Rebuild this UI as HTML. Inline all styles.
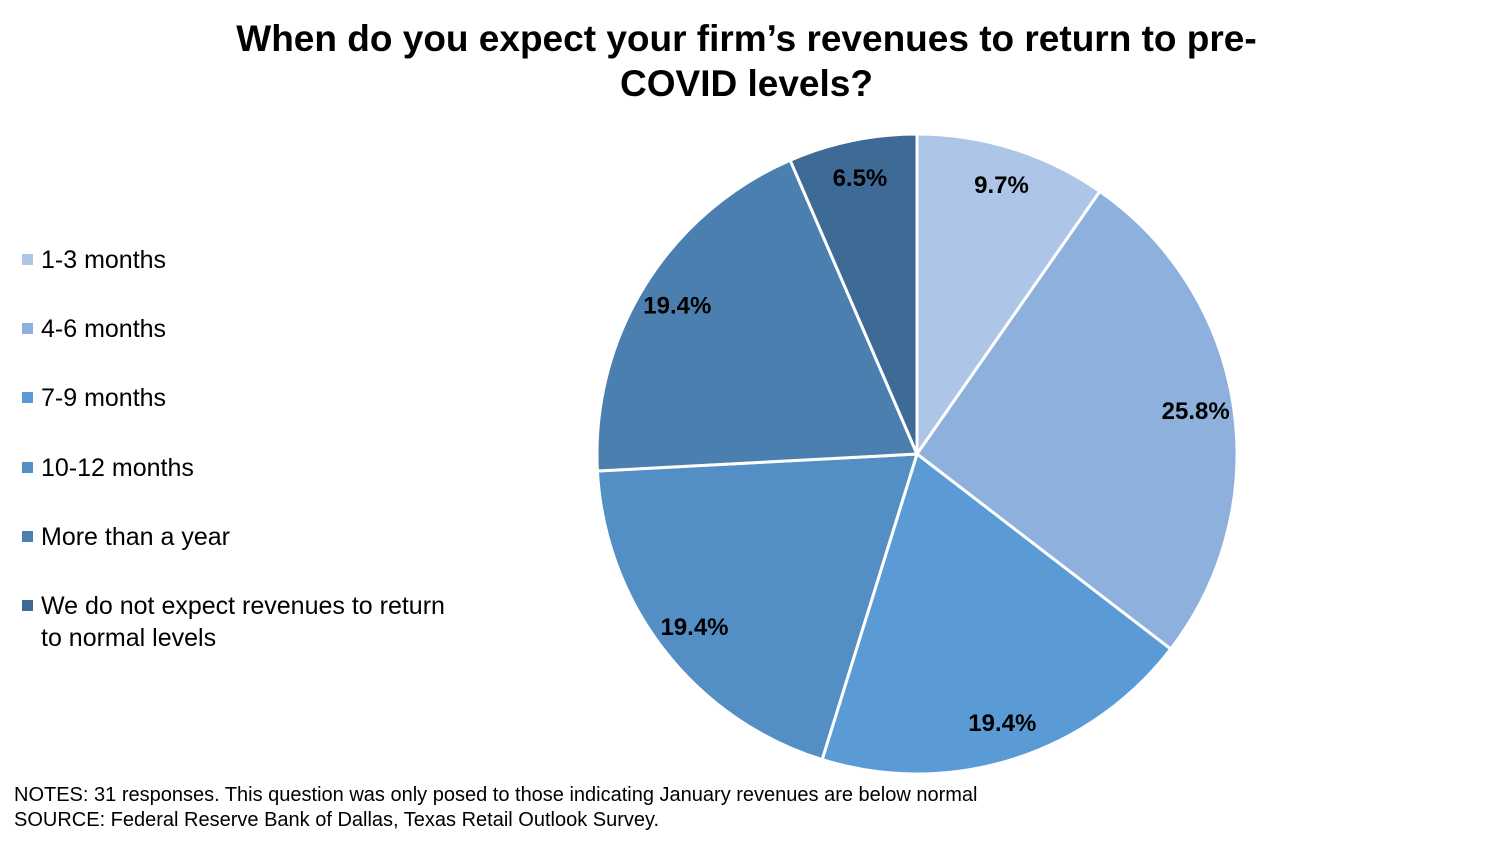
<!DOCTYPE html>
<html><head><meta charset="utf-8"><style>
body{margin:0;width:1493px;height:845px;background:#fff;font-family:"Liberation Sans",Arial,sans-serif;overflow:hidden;position:relative}
.title{position:absolute;left:0;width:1493px;top:16px;text-align:center;font-weight:bold;font-size:37px;line-height:45px;color:#000}
.leg{position:absolute;left:22px;font-size:25px;line-height:32px;color:#000}
.leg i{position:absolute;left:0;top:10px;width:11px;height:11px}
.leg span{display:block;margin-left:19px}
.notes{position:absolute;left:14px;top:783px;font-size:20px;line-height:25px;color:#000}
</style></head><body>
<div class="title">When do you expect your firm’s revenues to return to pre-<br>COVID levels?</div>
<div id="legend"></div>
<svg id="pie" width="1493" height="845" style="position:absolute;left:0;top:0"></svg>
<div class="notes">NOTES: 31 responses. This question was only posed to those indicating January revenues are below normal<br>SOURCE: Federal Reserve Bank of Dallas, Texas Retail Outlook Survey.</div>
<script>
const categories=["1-3 months","4-6 months","7-9 months","10-12 months","More than a year","We do not expect revenues to return to normal levels"];
const values=[9.7,25.8,19.4,19.4,19.4,6.5];
const colors=["#adc5e6","#8db0dc","#5b9bd5","#538ec4","#4a7fb0","#3e6a96"];
const legendTops=[244,313,382,452,521,590];
const cx=917,cy=454,R=320,LR=282;
const svg=document.getElementById('pie');
const NS="http://www.w3.org/2000/svg";
const total=values.reduce((a,b)=>a+b,0);
function pt(a,r){return [cx+r*Math.sin(a),cy-r*Math.cos(a)];}
let acc=0;
values.forEach((v,i)=>{
  const a0=acc/total*2*Math.PI;acc+=v;const a1=acc/total*2*Math.PI;
  const p0=pt(a0,R),p1=pt(a1,R);
  const path=document.createElementNS(NS,'path');
  path.setAttribute('d',`M${cx},${cy} L${p0[0]},${p0[1]} A${R},${R} 0 ${a1-a0>Math.PI?1:0} 1 ${p1[0]},${p1[1]} Z`);
  path.setAttribute('fill',colors[i]);path.setAttribute('stroke','#fff');path.setAttribute('stroke-width','3');
  
  
  svg.appendChild(path);
});
acc=0;
values.forEach((v,i)=>{
  const am=(acc+v/2)/total*2*Math.PI;acc+=v;
  const p=pt(am,LR);
  const t=document.createElementNS(NS,'text');
  t.setAttribute('x',p[0]);t.setAttribute('y',p[1]+8);t.setAttribute('text-anchor','middle');
  t.setAttribute('font-size','24');t.setAttribute('font-weight','bold');t.setAttribute('font-family','Liberation Sans, Arial, sans-serif');
  t.textContent=v.toFixed(1)+'%';
  
  
  svg.appendChild(t);
});
const leg=document.getElementById('legend');
categories.forEach((c,i)=>{
  const d=document.createElement('div');d.className='leg';d.style.top=legendTops[i]+'px';
  if(i===5){d.style.width='480px';}
  d.innerHTML=`<i style="background:${colors[i]}"></i><span>${i===5?'We do not expect revenues to return<br>to normal levels':c}</span>`;
  
  
  leg.appendChild(d);
});
</script>
</body></html>
